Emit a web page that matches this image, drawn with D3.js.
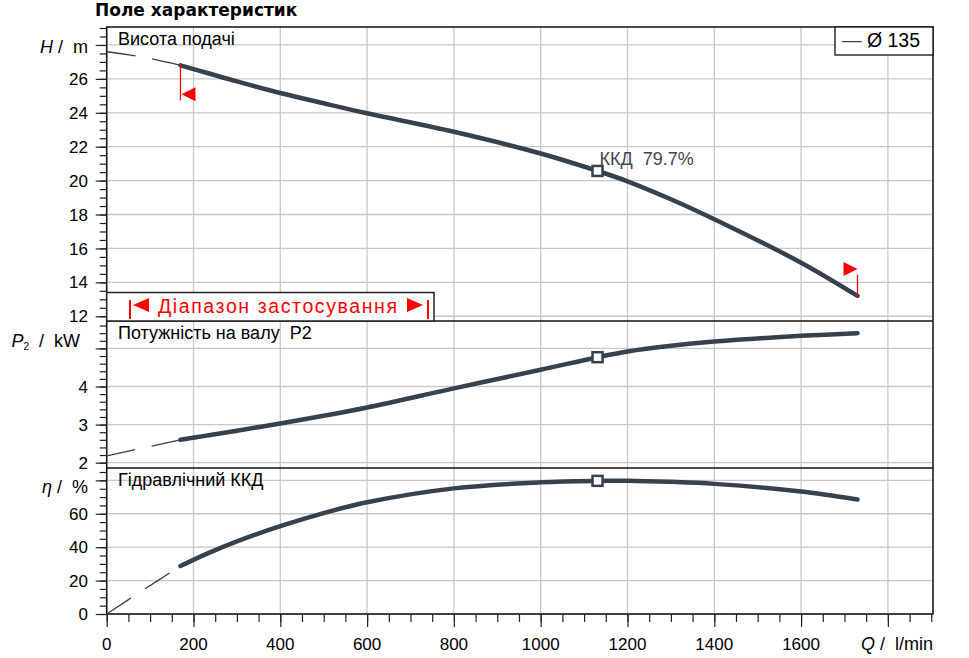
<!DOCTYPE html>
<html>
<head>
<meta charset="utf-8">
<script src="https://cdn.jsdelivr.net/npm/d3@7"></script>
<style>
  body { margin: 0; background: #fff; }
  text { font-family: "Liberation Sans", Arial, sans-serif; }
</style>
</head>
<body>
<svg id="chart" width="969" height="658"></svg>
<script>
// duty points, Q in l/min
const flow = [170, 230, 300, 400, 500, 600, 800, 1000, 1131, 1200, 1300, 1400, 1600, 1730];
const head = [26.8, 26.36, 25.85, 25.17, 24.56, 23.97, 22.88, 21.6, 20.57, 19.96, 18.9, 17.72, 15.16, 13.2];
const power = [2.6, 2.71, 2.84, 3.03, 3.23, 3.45, 3.95, 4.44, 4.77, 4.92, 5.07, 5.18, 5.33, 5.4];
const efficiency = [28.7, 36.0, 43.5, 52.6, 60.4, 66.9, 75.2, 78.8, 79.7, 79.8, 79.1, 77.9, 73.3, 68.5];

// thin dashed part below the minimum flow
const flowLow = [0, 85, 170];
const headLow = [27.6, 27.28, 26.8];
const powerLow = [2.18, 2.39, 2.6];
const efficiencyLow = [0, 14.5, 28.7];

// best efficiency point
const bepFlow = 1131;
const bepHead = 20.57;
const bepPower = 4.77;
const bepEfficiency = 79.7;

const flowTicks = [0, 200, 400, 600, 800, 1000, 1200, 1400, 1600];
const headTicks = [12, 14, 16, 18, 20, 22, 24, 26];
const powerTicks = [2, 3, 4];
const efficiencyTicks = [0, 20, 40, 60];

const curveColor = "#38424d";
const gridColor = "#c8c8c8";
const left = 106.7, right = 933;

const svg = d3.select("#chart");

const x = d3.scaleLinear().domain([0, 1904]).range([left, right]);

const panels = [
  {
    title: "Висота подачі",
    y: d3.scaleLinear().domain([11.72, 29.06]).range([321, 27]),
    major: 2, minor: 0.5, labels: headTicks,
    values: head, low: headLow, bep: bepHead,
  },
  {
    title: "Потужність на валу  P2",
    y: d3.scaleLinear().domain([1.86, 5.72]).range([468, 321]),
    major: 1, minor: 0.2, labels: powerTicks,
    values: power, low: powerLow, bep: bepPower,
  },
  {
    title: "Гідравлічний ККД",
    y: d3.scaleLinear().domain([0, 87.4]).range([614, 468]),
    major: 20, minor: 5, labels: efficiencyTicks,
    values: efficiency, low: efficiencyLow, bep: bepEfficiency,
  },
];

function stepValues(domain, step) {
  const lo = Math.ceil(domain[0] / step - 1e-6) * step;
  return d3.range(lo, domain[1] + 1e-6, step).map((d) => +d.toFixed(4));
}

const gGrid = svg.append("g");
const gFrame = svg.append("g");
const gCurves = svg.append("g");
const gText = svg.append("g");

// vertical grid
const xGrid = stepValues(x.domain(), 200);
gGrid
  .selectAll(".vgrid")
  .data(xGrid)
  .join("line")
  .attr("x1", (d) => x(d))
  .attr("x2", (d) => x(d))
  .attr("y1", 27)
  .attr("y2", 614)
  .attr("stroke", gridColor)
  .attr("stroke-width", 1.3);

panels.forEach((p) => {
  const dom = p.y.domain();
  const [yBottom, yTop] = p.y.range();

  gGrid
    .append("g")
    .selectAll("line")
    .data(stepValues(dom, p.major))
    .join("line")
    .attr("x1", left)
    .attr("x2", right)
    .attr("y1", (d) => p.y(d))
    .attr("y2", (d) => p.y(d))
    .attr("stroke", gridColor)
    .attr("stroke-width", 1.3);

  // minor and major ticks on the left
  svg
    .append("g")
    .attr("transform", `translate(${left},0)`)
    .call(
      d3.axisLeft(p.y).tickValues(stepValues(dom, p.minor)).tickSize(7).tickFormat("")
    )
    .call((g) => g.select(".domain").remove());
  svg
    .append("g")
    .attr("transform", `translate(${left},0)`)
    .call(
      d3.axisLeft(p.y).tickValues(stepValues(dom, p.major)).tickSize(11).tickFormat("")
    )
    .call((g) => g.select(".domain").remove());

  gText
    .append("g")
    .selectAll("text")
    .data(p.labels)
    .join("text")
    .attr("x", 88)
    .attr("y", (d) => p.y(d))
    .attr("dy", "0.36em")
    .attr("text-anchor", "end")
    .attr("font-size", 17)
    .text((d) => d);

  gText
    .append("text")
    .attr("x", 118)
    .attr("y", yTop + 18)
    .attr("font-size", 18)
    .attr("xml:space", "preserve")
    .text(p.title);

  // curves
  const line = d3
    .line()
    .x((d) => x(d[0]))
    .y((d) => p.y(d[1]))
    .curve(d3.curveCatmullRom.alpha(0.5));

  gCurves
    .append("path")
    .attr("d", line(flowLow.map((q, i) => [q, p.low[i]])))
    .attr("fill", "none")
    .attr("stroke", curveColor)
    .attr("stroke-width", 1.3)
    .attr("stroke-dasharray", "29,17");

  gCurves
    .append("path")
    .attr("d", line(flow.map((q, i) => [q, p.values[i]])))
    .attr("fill", "none")
    .attr("stroke", curveColor)
    .attr("stroke-width", 4.5)
    .attr("stroke-linecap", "round");

  gCurves
    .append("rect")
    .attr("x", x(bepFlow) - 5)
    .attr("y", p.y(p.bep) - 5)
    .attr("width", 10)
    .attr("height", 10)
    .attr("fill", "#fff")
    .attr("stroke", curveColor)
    .attr("stroke-width", 2.5);
});

// x axis ticks
svg
  .append("g")
  .attr("transform", "translate(0,614)")
  .call(d3.axisBottom(x).tickValues(stepValues(x.domain(), 50)).tickSize(8).tickFormat(""))
  .call((g) => g.select(".domain").remove());
svg
  .append("g")
  .attr("transform", "translate(0,614)")
  .call(d3.axisBottom(x).tickValues(xGrid).tickSize(13).tickFormat(""))
  .call((g) => g.select(".domain").remove());
svg.selectAll(".tick line").attr("stroke", "#222").attr("stroke-width", 1.2);

gText
  .selectAll(".xlabel")
  .data(flowTicks)
  .join("text")
  .attr("x", (d) => x(d))
  .attr("y", 650)
  .attr("text-anchor", "middle")
  .attr("font-size", 17)
  .text((d) => d);

// frame and panel separators
gFrame
  .append("rect")
  .attr("x", left)
  .attr("y", 27)
  .attr("width", right - left)
  .attr("height", 614 - 27)
  .attr("fill", "none")
  .attr("stroke", "#111")
  .attr("stroke-width", 1.5);
[321, 468].forEach((yy) =>
  gFrame
    .append("line")
    .attr("x1", left)
    .attr("x2", right)
    .attr("y1", yy)
    .attr("y2", yy)
    .attr("stroke", "#111")
    .attr("stroke-width", 1.5)
);

// operating range markers on the head curve
const hY = panels[0].y;
const qMin = flow[0], qMax = flow[flow.length - 1];
const yMin = hY(head[0]), yMax = hY(head[head.length - 1]);
const red = "#ff0000";
gCurves
  .append("line")
  .attr("x1", x(qMin)).attr("x2", x(qMin))
  .attr("y1", yMin).attr("y2", yMin + 35)
  .attr("stroke", red).attr("stroke-width", 1.3);
gCurves
  .append("path")
  .attr("d", `M${x(qMin) + 1},${yMin + 29} l14,-7 v14 Z`)
  .attr("fill", red);
gCurves
  .append("line")
  .attr("x1", x(qMax)).attr("x2", x(qMax))
  .attr("y1", yMax).attr("y2", yMax - 21)
  .attr("stroke", red).attr("stroke-width", 1.3);
gCurves
  .append("path")
  .attr("d", `M${x(qMax)},${yMax - 27} l-14,-7 v14 Z`)
  .attr("fill", red);

// range box
const gRange = svg.append("g");
gRange
  .append("rect")
  .attr("x", left)
  .attr("y", 292.5)
  .attr("width", 434 - left)
  .attr("height", 321 - 292.5)
  .attr("fill", "#fff")
  .attr("stroke", "#222")
  .attr("stroke-width", 1.5);
[130, 428].forEach((xx) =>
  gRange
    .append("line")
    .attr("x1", xx).attr("x2", xx)
    .attr("y1", 300).attr("y2", 319)
    .attr("stroke", red).attr("stroke-width", 2)
);
gRange.append("path").attr("d", "M133,305 l16,-7 v14 Z").attr("fill", red);
gRange.append("path").attr("d", "M423,305 l-16,-7 v14 Z").attr("fill", red);
gRange
  .append("text")
  .attr("x", 158)
  .attr("y", 313)
  .attr("font-size", 19.5)
  .attr("fill", red)
  .attr("textLength", 239)
  .attr("lengthAdjust", "spacing")
  .text("Діапазон застосування");

// BEP label
gText
  .append("text")
  .attr("x", x(bepFlow) + 2)
  .attr("y", hY(bepHead) - 6)
  .attr("font-size", 18)
  .attr("fill", "#3d4855")
  .attr("xml:space", "preserve")
  .text("ККД  " + bepEfficiency + "%");

// legend
const gLegend = svg.append("g");
gLegend
  .append("rect")
  .attr("x", 835)
  .attr("y", 27)
  .attr("width", right - 835)
  .attr("height", 28)
  .attr("fill", "#fff")
  .attr("stroke", "#111")
  .attr("stroke-width", 1.3);
gLegend
  .append("text")
  .attr("x", 842)
  .attr("y", 47)
  .attr("font-size", 19.5)
  .call((t) => t.append("tspan").attr("fill", curveColor).text("— "))
  .call((t) => t.append("tspan").text("Ø 135"));

// axis names
function axisName(xx, yy, italic, rest, sub) {
  const t = gText
    .append("text")
    .attr("x", xx)
    .attr("y", yy)
    .attr("text-anchor", "end")
    .attr("font-size", 18)
    .attr("xml:space", "preserve");
  t.append("tspan").attr("font-style", "italic").text(italic);
  if (sub) t.append("tspan").attr("font-size", 10).attr("dy", 3).text(sub);
  t.append("tspan").attr("dy", sub ? -3 : 0).text(rest);
}
axisName(88, 53, "H", " /  m");
axisName(80, 347, "P", "  /  kW", "2");
axisName(88, 493, "η", " /  %");
axisName(933, 650, "Q", " /  l/min");

// title
svg
  .append("text")
  .attr("x", 95)
  .attr("y", 16)
  .style("font-family", "'DejaVu Sans', sans-serif")
  .attr("font-weight", "bold")
  .attr("font-size", 17)
  .text("Поле характеристик");
</script>
</body>
</html>
